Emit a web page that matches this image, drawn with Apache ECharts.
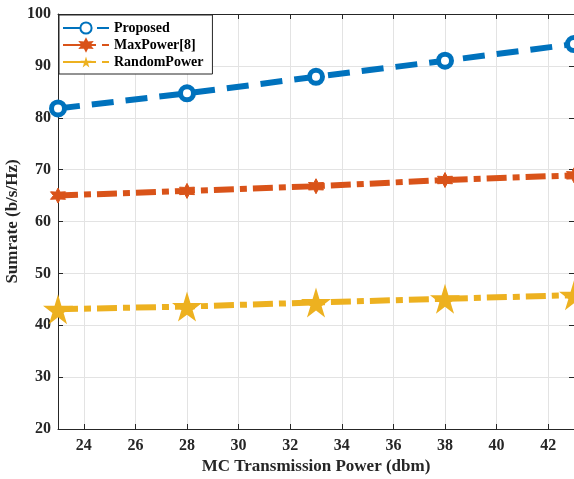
<!DOCTYPE html>
<html>
<head>
<meta charset="utf-8">
<script src="https://cdn.jsdelivr.net/npm/echarts@6/dist/echarts.min.js"></script>
<style>
  html, body { margin: 0; padding: 0; background: #fff; }
  #chart { width: 574px; height: 479px; }
</style>
</head>
<body>
<div id="chart"></div>
<script>
// data
const powerX = [23, 28, 33, 38, 43];
const proposed = [81.8, 84.7, 87.9, 91.0, 94.2];
const maxPower = [65.0, 65.9, 66.8, 68.0, 68.9];
const randomPower = [43.1, 43.6, 44.4, 45.1, 45.8];
const xTicks = [24, 26, 28, 30, 32, 34, 36, 38, 40, 42];

const seriesNames = ['Proposed', 'MaxPower[8]', 'RandomPower'];
const colors = ['#0072BD', '#D95319', '#EDB120'];

const font = 'Liberation Serif';
const axisColor = '#262626';

const starPath = 'path://M50,0 L61,35 L98,35 L68,57 L79,91 L50,70 L21,91 L32,57 L2,35 L39,35 Z';
const hexPath = 'path://M50,0 L62,27 L93,25 L76,50 L93,75 L62,73 L50,100 L38,73 L7,75 L24,50 L7,25 L38,27 Z';

const toPairs = arr => powerX.map((x, i) => [x, arr[i]]);

const chart = echarts.init(document.getElementById('chart'));

const option = {
  animation: false,
  backgroundColor: '#fff',
  grid: { left: 58, right: 0, top: 14, bottom: 50, containLabel: false, outerBoundsMode: 'none' },
  legend: {
    orient: 'vertical',
    left: 59,
    top: 15,
    padding: [6, 9, 5, 3],
    itemGap: 3,
    itemWidth: 46,
    itemHeight: 14,
    backgroundColor: '#fff',
    borderColor: axisColor,
    borderWidth: 1,
    textStyle: { fontFamily: font, fontWeight: 'bold', fontSize: 14, color: '#000' },
    data: seriesNames
  },
  xAxis: [
    {
      type: 'value',
      min: 23,
      max: 43,
      name: 'MC Transmission Power (dbm)',
      nameLocation: 'middle',
      nameGap: 29,
      nameMoveOverlap: false,
      nameTextStyle: { fontFamily: font, fontWeight: 'bold', fontSize: 17, color: axisColor },
      axisLine: { lineStyle: { color: axisColor, width: 1 } },
      axisTick: { inside: true, length: 5, customValues: xTicks, lineStyle: { color: axisColor } },
      axisLabel: { customValues: xTicks, fontFamily: font, fontWeight: 'bold', fontSize: 16, color: axisColor, margin: 9 },
      splitLine: { show: true, lineStyle: { color: '#e3e3e3', width: 1 } }
    },
    {
      type: 'value',
      position: 'top',
      min: 23,
      max: 43,
      axisLine: { show: true, lineStyle: { color: axisColor, width: 1 } },
      axisTick: { inside: true, length: 5, customValues: xTicks, lineStyle: { color: axisColor } },
      axisLabel: { show: false },
      splitLine: { show: false }
    }
  ],
  yAxis: [
    {
      type: 'value',
      min: 20,
      max: 100,
      interval: 10,
      name: 'Sumrate (b/s/Hz)',
      nameLocation: 'middle',
      nameGap: 37,
      nameMoveOverlap: false,
      nameTextStyle: { fontFamily: font, fontWeight: 'bold', fontSize: 17, color: axisColor },
      axisLine: { show: true, lineStyle: { color: axisColor, width: 1 } },
      axisTick: { show: true, inside: true, length: 5, lineStyle: { color: axisColor } },
      axisLabel: { fontFamily: font, fontWeight: 'bold', fontSize: 16, color: axisColor, margin: 7 },
      splitLine: { show: true, lineStyle: { color: '#e3e3e3', width: 1 } }
    },
    {
      type: 'value',
      position: 'right',
      min: 20,
      max: 100,
      interval: 10,
      axisLine: { show: true, lineStyle: { color: axisColor, width: 1 } },
      axisTick: { show: true, inside: true, length: 5, lineStyle: { color: axisColor } },
      axisLabel: { show: false },
      splitLine: { show: false }
    }
  ],
  series: [
    {
      name: seriesNames[0],
      type: 'line',
      data: toPairs(proposed),
      clip: false,
      color: colors[0],
      lineStyle: { width: 6, type: [22, 12], color: colors[0] },
      symbol: 'circle',
      symbolSize: 13,
      itemStyle: { color: '#fff', borderColor: colors[0], borderWidth: 5 },
      z: 3
    },
    {
      name: seriesNames[1],
      type: 'line',
      data: toPairs(maxPower),
      clip: false,
      color: colors[1],
      lineStyle: { width: 6, type: [20, 6, 7, 6], color: colors[1] },
      symbol: hexPath,
      symbolSize: 15,
      itemStyle: { color: colors[1], borderColor: colors[1], borderWidth: 1 },
      z: 3
    },
    {
      name: seriesNames[2],
      type: 'line',
      data: toPairs(randomPower),
      clip: false,
      color: colors[2],
      lineStyle: { width: 6, type: [20, 6, 7, 6], color: colors[2] },
      symbol: starPath,
      symbolSize: 30,
      itemStyle: { color: colors[2], borderColor: colors[2], borderWidth: 0 },
      z: 3
    }
  ]
};

chart.setOption(option);
window.addEventListener('resize', () => chart.resize());
</script>
</body>
</html>
